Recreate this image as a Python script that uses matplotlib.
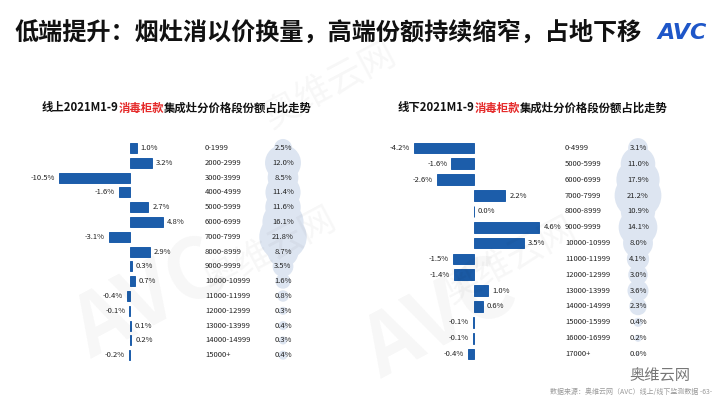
import matplotlib
matplotlib.use("Agg")
import matplotlib.pyplot as plt
from matplotlib.patches import Ellipse
import numpy as np

plt.rcParams['font.family'] = ['Noto Sans CJK SC', 'DejaVu Sans']

# ---- data ----
online_prices = ["0-1999", "2000-2999", "3000-3999", "4000-4999", "5000-5999", "6000-6999",
                 "7000-7999", "8000-8999", "9000-9999", "10000-10999", "11000-11999",
                 "12000-12999", "13000-13999", "14000-14999", "15000+"]
online_change = [1.0, 3.2, -10.5, -1.6, 2.7, 4.8, -3.1, 2.9, 0.3, 0.7, -0.4, -0.1, 0.1, 0.2, -0.2]
online_share = [2.5, 12.0, 8.5, 11.4, 11.6, 16.1, 21.8, 8.7, 3.5, 1.6, 0.8, 0.3, 0.4, 0.3, 0.4]

offline_prices = ["0-4999", "5000-5999", "6000-6999", "7000-7999", "8000-8999", "9000-9999",
                  "10000-10999", "11000-11999", "12000-12999", "13000-13999", "14000-14999",
                  "15000-15999", "16000-16999", "17000+"]
offline_change = [-4.2, -1.6, -2.6, 2.2, 0.0, 4.6, 3.5, -1.5, -1.4, 1.0, 0.6, -0.1, -0.1, -0.4]
offline_share = [3.1, 11.0, 17.9, 21.2, 10.9, 14.1, 8.0, 4.1, 3.0, 3.6, 2.3, 0.4, 0.2, 0.0]

W, H = 720, 405
BAR = "#1c5daa"
BUBBLE = "#dde5f1"

fig = plt.figure(figsize=(7.2, 4.05), dpi=100)
fig.patch.set_facecolor("white")


def px_axes(x0, y0, x1, y1):
    # pixel box (top-left origin) -> axes
    return fig.add_axes([x0 / W, 1 - y1 / H, (x1 - x0) / W, (y1 - y0) / H])


def panel(x0, x1, zero_px, scale, row0, row_step, price_px, share_px, prices, change, share):
    top, bottom = 132, 368
    ax = px_axes(x0, top, x1, bottom)
    ax.set_xlim((x0 - zero_px) / scale, (x1 - zero_px) / scale)
    ax.set_ylim((bottom - row0) / row_step, (top - row0) / row_step)
    ax.axis("off")
    y = np.arange(len(prices))
    xp = (price_px - zero_px) / scale
    xs = (share_px - zero_px) / scale
    # background bubbles behind share column
    for i, s in enumerate(share):
        d = 9.5 * np.sqrt(s) + 3
        ax.add_patch(Ellipse((xs, i), d / scale, d / row_step, facecolor=BUBBLE,
                             edgecolor="none", zorder=0))
    ax.barh(y, change, height=0.68, color=BAR, edgecolor=BAR, linewidth=0.7, zorder=2)
    pad = 4 / scale
    for i, v in enumerate(change):
        if v >= 0:
            ax.text(v + pad, i, f"{v:.1f}%", ha="left", va="center", fontsize=5.5, color="#222222")
        else:
            ax.text(v - pad, i, f"{v:.1f}%", ha="right", va="center", fontsize=5.5, color="#222222")
        ax.text(xp, i, prices[i], ha="left", va="center", fontsize=5.5, color="#222222")
        ax.text(xs, i, f"{share[i]:.1f}%", ha="center", va="center", fontsize=5.5,
                color="#222222", zorder=3)
    return ax


panel(30, 330, 130, 6.8, 148, 14.8, 205, 283, online_prices, online_change, online_share)
panel(370, 690, 474, 14.2, 148, 15.85, 565, 638, offline_prices, offline_change, offline_share)

# watermarks
for wx, wy in [(150, 300), (440, 320)]:
    fig.text(wx / W, 1 - wy / H, "AVC", fontsize=60, fontweight="bold", color="#000000",
             alpha=0.035, rotation=28, ha="center", va="center", style="italic")
for wx, wy in [(270, 250), (510, 260), (330, 85)]:
    fig.text(wx / W, 1 - wy / H, "奥维云网", fontsize=26, color="#000000", alpha=0.035,
             rotation=28, ha="center", va="center")

# main title
fig.text(14 / W, 1 - 33 / H, "低端提升：烟灶消以价换量，高端份额持续缩窄，占地下移",
         fontsize=17.4, fontweight="heavy", color="#111111", ha="left", va="center")
fig.text(657 / W, 1 - 33 / H, "AVC", fontsize=16, fontweight="bold", style="italic",
         color="#1e56c8", ha="left", va="center", family=["DejaVu Sans"])

# subtitles with red highlight
renderer = fig.canvas.get_renderer()


def rich_title(x_px, y_px, parts):
    x = x_px / W
    for s, c in parts:
        t = fig.text(x, 1 - y_px / H, s, color=c, fontsize=8.2, fontweight="bold",
                     ha="left", va="center")
        x += t.get_window_extent(renderer).width / fig.bbox.width


rich_title(42, 108, [("线上2021M1-9", "#111111"), ("消毒柜款", "#e52a2a"),
                     ("集成灶分价格段份额占比走势", "#111111")])
rich_title(398, 108, [("线下2021M1-9", "#111111"), ("消毒柜款", "#e52a2a"),
                      ("集成灶分价格段份额占比走势", "#111111")])

# footer
fig.text(660 / W, 1 - 376 / H, "奥维云网", fontsize=11, color="#777777", ha="center", va="center")
fig.text(712 / W, 1 - 392 / H, "数据来源：奥维云网（AVC）线上/线下监测数据 -63-", fontsize=5,
         color="#999999", ha="right", va="center")

fig.savefig("out.png", dpi=100)
